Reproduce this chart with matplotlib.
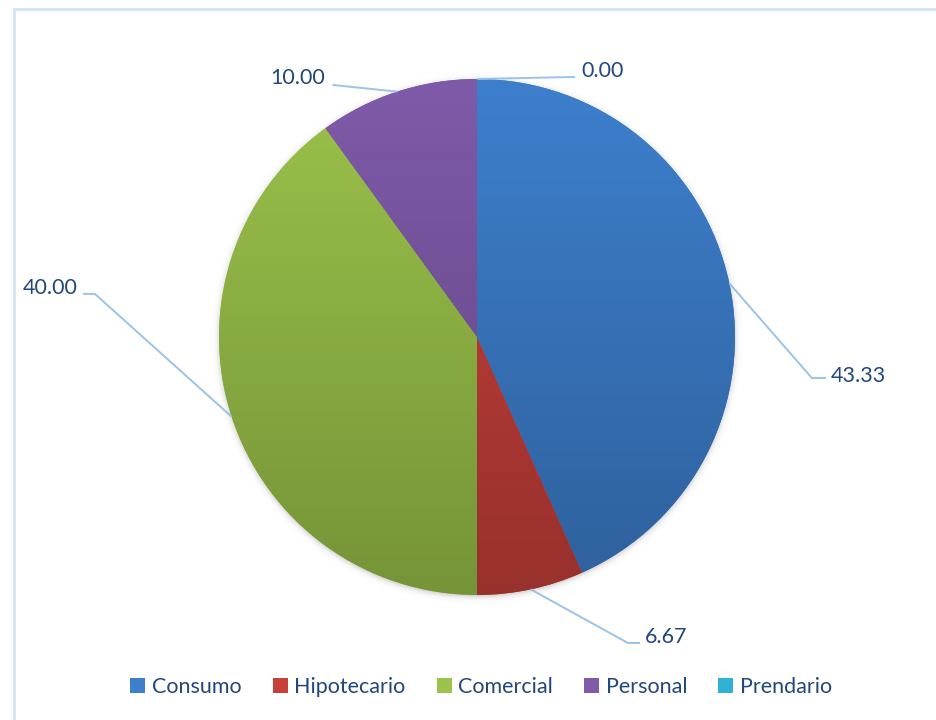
import numpy as np
import matplotlib.pyplot as plt
from matplotlib.colors import to_rgb
from matplotlib.patches import Rectangle

categorias = ['Consumo', 'Hipotecario', 'Comercial', 'Personal', 'Prendario']
valores = [43.33, 6.67, 40.00, 10.00, 0.00]
etiquetas = ['43.33', '6.67', '40.00', '10.00', '0.00']

colores = ['#3d7fcd', '#c8403b', '#9bc24a', '#7f5aa9', '#2fb2d3']
color_texto = '#22477a'
color_guia = '#9cc2e8'

plt.rcParams['font.family'] = ['Lato', 'DejaVu Sans']

W, H = 936, 720
R = 258.0          # radio del pastel en pixeles
cx, cy = 477.0, H - 337.0

fig = plt.figure(figsize=(W / 100, H / 100), dpi=100)
ax = fig.add_axes([0, 0, 1, 1])

# sombra suave alrededor del pastel
gx = np.linspace(-1.15, 1.15, 500)
gy = np.linspace(-1.15, 1.15, 500)
XX, YY = np.meshgrid(gx, gy)
d = np.hypot(XX, YY + 0.006)
alfa = 0.45 / (1 + np.exp((d - 0.992) / 0.009))
sombra = np.zeros((500, 500, 4))
sombra[..., 3] = alfa
ax.imshow(sombra, extent=(-1.15, 1.15, -1.15, 1.15), origin='lower',
          zorder=0, interpolation='bilinear', aspect='auto')

wedges, _ = ax.pie(valores, colors=colores, startangle=90, counterclock=False,
                   radius=1, wedgeprops=dict(linewidth=0))
for w in wedges:
    w.set_zorder(1)

# degradado vertical dentro de cada sector
t = np.linspace(1.0, 0.76, 256)[:, None, None]
for w, c in zip(wedges, colores):
    img = np.clip(t * np.array(to_rgb(c))[None, None, :], 0, 1)
    im = ax.imshow(img, extent=(-1, 1, -1, 1), origin='upper', aspect='auto',
                   interpolation='bilinear', zorder=2)
    im.set_clip_path(w)

# lineas guia y etiquetas: (codo_x, codo_y, fin_x, texto_x, texto_y, alineacion)
guias = [
    (1.298, -0.159, 1.353, 1.370, -0.150, 'left'),
    (0.585, -1.186, 0.632, 0.651, -1.163, 'left'),
    (-1.481, 0.167, -1.527, -1.548, 0.190, 'right'),
    (-0.560, 0.977, -0.560, -0.589, 1.004, 'right'),
    (0.380, 1.008, 0.380, 0.406, 1.031, 'left'),
]
total = sum(valores)
ang = 90.0
for v, lab, g in zip(valores, etiquetas, guias):
    medio = np.deg2rad(ang - 360.0 * v / total / 2)
    ang -= 360.0 * v / total
    px, py = np.cos(medio), np.sin(medio)
    ex, ey, fx, tx, ty, ha = g
    ax.plot([px, ex, fx], [py, ey, ey], color=color_guia, lw=1.4, zorder=3,
            solid_capstyle='butt')
    ax.text(tx, ty, lab, ha=ha, va='center', fontsize=15.5, color=color_texto,
            zorder=4)

ax.set_aspect('auto')
ax.set_xlim(-cx / R, (W - cx) / R)
ax.set_ylim(-cy / R, (H - cy) / R)
ax.axis('off')

# leyenda
handles = [Rectangle((0, 0), 1, 1, facecolor=c, edgecolor='none') for c in colores]
leg = fig.legend(handles, categorias, loc='center', ncol=5,
                 bbox_to_anchor=(0.514, 1 - 687 / H), frameon=False,
                 fontsize=15.5, handlelength=0.7, handleheight=0.7,
                 handletextpad=0.3, columnspacing=1.45)
for txt in leg.get_texts():
    txt.set_color(color_texto)

# marco del area del grafico
fig.patches.append(Rectangle((14 / W, -0.1), 1.2, (H - 9) / H + 0.1,
                             transform=fig.transFigure, fill=False,
                             edgecolor='#d5e3f3', lw=2))

fig.savefig('out.png', dpi=100)
